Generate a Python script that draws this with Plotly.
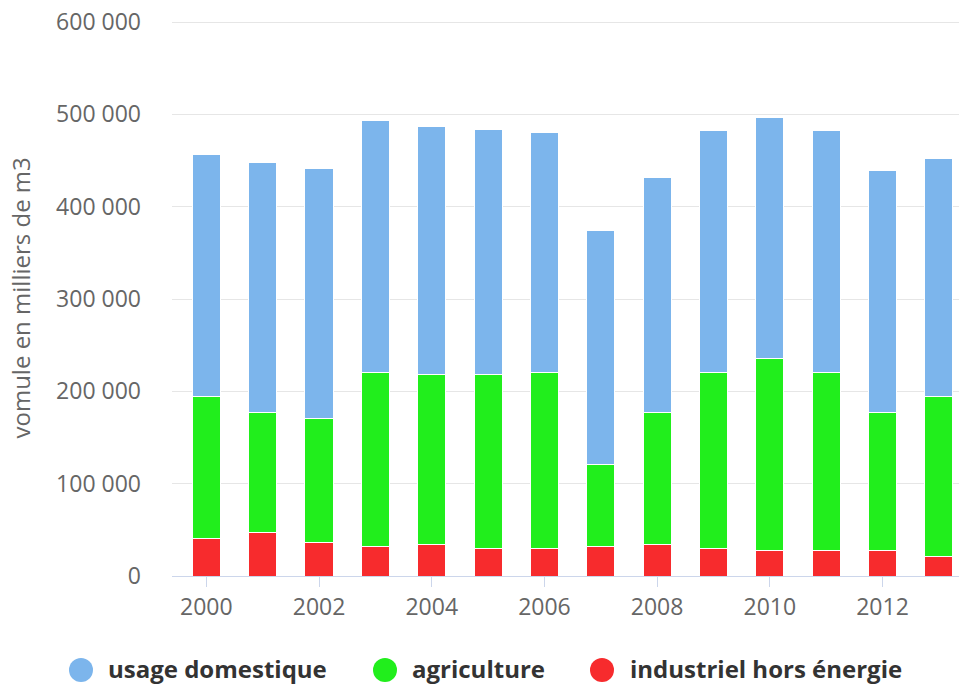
import plotly.graph_objects as go

years = list(range(2000, 2014))
industriel = [40600, 47400, 36600, 32000, 34000, 30000, 30000, 32000, 34000, 30000, 27600, 27600, 27600, 21000]
agriculture = [154000, 129600, 134400, 188500, 184000, 188000, 190500, 89000, 143000, 190500, 208400, 192900, 149400, 173600]
domestique = [261400, 270500, 270000, 272500, 269000, 266000, 259500, 253000, 255000, 261500, 261000, 261500, 262000, 257400]

series_names = ["usage domestique", "agriculture", "industriel hors énergie"]
series_values = [domestique, agriculture, industriel]
series_colors = ["#7cb5ec", "#21ee1c", "#f72b2d"]
y_title = "vomule en milliers de m3"

# figure geometry (the page body adds an 8px offset)
W, H = 959, 676
ML, MR, MT, MB = 164, 0, 13, 108
PW, PH = W - ML - MR, H - MT - MB

def px_to_paper_x(px):
    return (px - ML) / PW

def px_to_paper_y(py):
    return (H - MB - py) / PH

fig = go.Figure()
# stack from bottom: industriel, agriculture, domestique
for name, vals, col in reversed(list(zip(series_names, series_values, series_colors))):
    fig.add_trace(go.Bar(x=years, y=vals, name=name,
                         marker=dict(color=col, line=dict(color="white", width=1)),
                         showlegend=False))

# custom legend (circles + bold labels) below the plot
legend_circle_x = [73, 377, 594]
legend_text_x = [98, 402, 620]
legend_y_circle = 662
legend_y_text = 660
shapes = []
annotations = []
for name, col, cx, tx in zip(series_names, series_colors, legend_circle_x, legend_text_x):
    shapes.append(dict(type="circle", xref="paper", yref="paper",
                       xsizemode="pixel", ysizemode="pixel",
                       xanchor=px_to_paper_x(cx), yanchor=px_to_paper_y(legend_y_circle),
                       x0=-12, x1=12, y0=-12, y1=12,
                       fillcolor=col, line=dict(width=0)))
    annotations.append(dict(text=name, xref="paper", yref="paper",
                            x=px_to_paper_x(tx), y=px_to_paper_y(legend_y_text),
                            xanchor="left", yanchor="middle", showarrow=False,
                            font=dict(family="Open Sans", size=24, color="#333333", weight="bold")))

# y-axis title
annotations.append(dict(text=y_title, xref="paper", yref="paper",
                        x=px_to_paper_x(12), y=0.5, textangle=-90,
                        xanchor="center", yanchor="middle", showarrow=False,
                        font=dict(family="Open Sans", size=24, color="#666666")))

fig.update_layout(
    width=W, height=H,
    barmode="stack", bargap=0.5,
    plot_bgcolor="white", paper_bgcolor="white",
    margin=dict(l=ML, r=MR, t=MT, b=MB, autoexpand=False),
    separators=", ",
    font=dict(family="Open Sans", color="#666666"),
    showlegend=False,
    shapes=shapes,
    annotations=annotations,
)
fig.update_yaxes(range=[0, 601100], tickvals=[0, 100000, 200000, 300000, 400000, 500000, 600000],
                 tickformat=",d", gridcolor="#e6e6e6", gridwidth=1,
                 showline=False, zeroline=False, ticklabelstandoff=30, ticklabeloverflow="allow",
                 tickfont=dict(size=23, color="#666666"))
fig.update_xaxes(range=[1999.39, 2013.5], tick0=2000, dtick=2, showgrid=False, showline=True,
                 linecolor="#ccd6eb", linewidth=1, ticks="outside", ticklen=10, tickcolor="#ccd6eb",
                 tickfont=dict(size=23, color="#666666"))

fig.write_html("out.html")
